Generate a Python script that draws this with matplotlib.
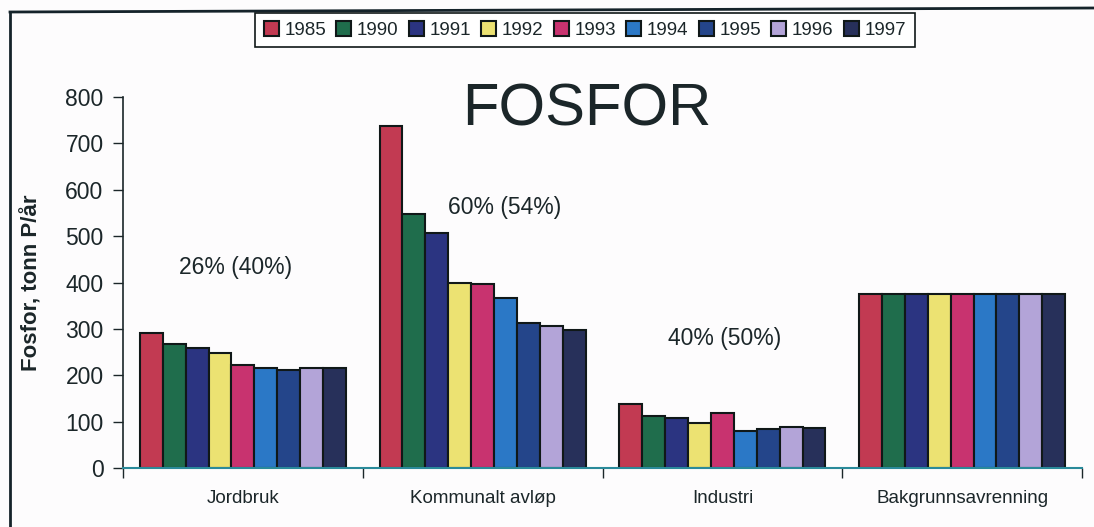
import matplotlib.pyplot as plt
from matplotlib.lines import Line2D
import numpy as np

plt.rcParams['font.family'] = ['Liberation Sans', 'DejaVu Sans']

categories = ['Jordbruk', 'Kommunalt avløp', 'Industri', 'Bakgrunnsavrenning']
years = ['1985', '1990', '1991', '1992', '1993', '1994', '1995', '1996', '1997']

# values per category, one entry per year
jordbruk = [291, 267, 258, 247, 223, 215, 211, 215, 216]
kommunalt = [738, 547, 507, 399, 396, 367, 312, 307, 297]
industri = [137, 113, 108, 96, 118, 80, 84, 89, 86]
bakgrunn = [375, 375, 375, 375, 375, 375, 375, 375, 375]

shares = ['26% (40%)', '60% (54%)', '40% (50%)']
share_pos = [(-0.03, 433), (1.09, 562), (2.01, 280)]

colors = ['#c23a52', '#1f6d4c', '#2b3481', '#ece272', '#c8336f',
          '#2b78c6', '#24458a', '#b3a4d8', '#27305a']

text_col = '#1b2629'

fig = plt.figure(figsize=(10.94, 5.27), dpi=100)
fig.patch.set_facecolor('#fdfcfd')
ax = fig.add_axes([123 / 1094, 59 / 527, 959 / 1094, 371 / 527])
ax.set_facecolor('#fdfcfd')

data = np.array([jordbruk, kommunalt, industri, bakgrunn])
x = np.arange(len(categories))
bw = 0.0955
for i, yr in enumerate(years):
    ax.bar(x + (i - 4) * bw, data[:, i], width=bw, color=colors[i],
           edgecolor='#101818', linewidth=1.5, label=yr)

ax.set_xlim(-0.5, 3.5)
ax.set_ylim(0, 800)
ax.set_yticks(range(0, 801, 100))
ax.tick_params(axis='y', labelsize=16.5, length=7, width=1, pad=7,
               colors=text_col)
ax.set_xticks(x)
ax.set_xticklabels(categories, fontsize=13.5, color=text_col)
ax.tick_params(axis='x', which='major', length=0, pad=16)
ax.set_xticks(np.arange(-0.5, 3.6, 1), minor=True)
ax.tick_params(axis='x', which='minor', length=7, width=1, color=text_col)

for s in ['top', 'right']:
    ax.spines[s].set_visible(False)
ax.spines['left'].set_color(text_col)
ax.spines['bottom'].set_color('#2a8a9a')
ax.spines['left'].set_linewidth(1.2)
ax.spines['bottom'].set_linewidth(1.5)

for label, (px, py) in zip(shares, share_pos):
    ax.text(px, py, label, ha='center', va='center', fontsize=16.5,
            color=text_col)

ax.text(587 / 1094, 1 - 110 / 527, 'FOSFOR', transform=fig.transFigure,
        ha='center', va='center', fontsize=43, color=text_col)

fig.text(32 / 1094, 1 - 283 / 527, 'Fosfor, tonn P/år', rotation=90,
         ha='center', va='center', fontsize=16, fontweight='bold',
         color=text_col)

leg = fig.legend(loc='center', bbox_to_anchor=(585 / 1094, 1 - 30 / 527),
                 ncol=9, fontsize=13.5, handlelength=0.8, handleheight=0.8,
                 handletextpad=0.3, columnspacing=0.55, borderpad=0.45,
                 fancybox=False, edgecolor='#101818', framealpha=1)
leg.get_frame().set_linewidth(1.2)
for t in leg.get_texts():
    t.set_color(text_col)

# page frame (left and top edges of the scanned box)
fig.add_artist(Line2D([10 / 1094, 10 / 1094], [0, 1 - 12 / 527],
                      transform=fig.transFigure, color='#15232a', lw=2))
fig.add_artist(Line2D([10 / 1094, 1], [1 - 12 / 527, 1 - 8 / 527],
                      transform=fig.transFigure, color='#15232a', lw=2))

fig.savefig('out.png', dpi=100, facecolor=fig.get_facecolor())
